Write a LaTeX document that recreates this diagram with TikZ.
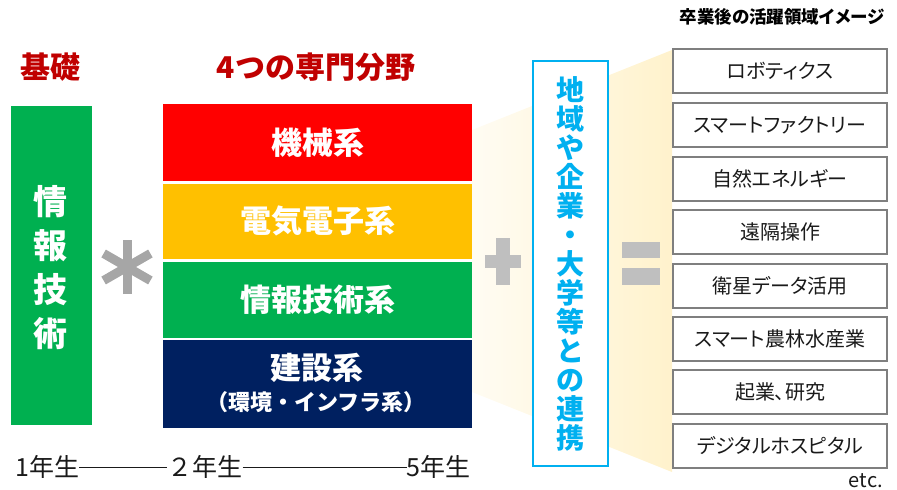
\documentclass[tikz,border=0pt]{standalone}
\usepackage{fontspec}
\setmainfont{Noto Sans CJK JP}
\newfontfamily\jpprop[RawFeature=+palt]{Noto Sans CJK JP}
\definecolor{cred}{HTML}{FF0000}
\definecolor{cyellow}{HTML}{FFC000}
\definecolor{cgreen}{HTML}{00B050}
\definecolor{cnavy}{HTML}{002060}
\definecolor{cblue}{HTML}{00B0F0}
\definecolor{titlered}{HTML}{C00000}
\definecolor{boxgray}{HTML}{7F7F7F}
\definecolor{astgray}{HTML}{A6A6A6}
\definecolor{signgray}{HTML}{BFBFBF}
\definecolor{beigeL}{HTML}{FFFCF3}
\definecolor{beigeR}{HTML}{FFF2CC}
\definecolor{textblack}{HTML}{1A1A1A}
\begin{document}
\begin{tikzpicture}[x=1pt,y=-1pt,
  hdr/.style={text=titlered,inner sep=0,font=\fontsize{30}{36}\selectfont\bfseries},
  band/.style={minimum width=309pt,inner sep=0,text=white,font=\fontsize{31}{36}\selectfont\bfseries},
  outcome/.style={draw=boxgray,line width=2pt,fill=white,minimum width=214pt,minimum height=44pt,inner sep=0,text=textblack,font=\jpprop\fontsize{20}{22}\selectfont},
  yearlbl/.style={inner sep=0,text=textblack,font=\fontsize{25}{28}\selectfont},
  yearline/.style={draw=textblack,line width=1pt}
]
\useasboundingbox (0,0) rectangle (897,490);
% beige fan
\shade[left color=beigeL,right color=beigeR] (472,130) -- (672,50) -- (672,472) -- (472,392) -- cycle;

% headers
\node[hdr] (kiso) at (50,67) {基礎};
\node[hdr] (senmon) at (316,67) {4つの専門分野};

% basic box
\node[fill=cgreen,minimum width=81pt,minimum height=319pt,inner sep=0] (base) at (51.5,265.5) {};
\node[text=white,inner sep=0,align=center,font=\fontsize{34}{44}\selectfont\bfseries] (basetxt) at (51,268) {情\\報\\技\\術};

% asterisk
\foreach \a in {90,30,150}
  \draw[astgray,line width=9pt] (127,267) ++(\a:27) -- ++(\a+180:54);

% specialty bands
\node[band,fill=cred,minimum height=77pt] (mech) at (317.5,142.5) {機械系};
\node[band,fill=cyellow,minimum height=75pt] (elec) at (317.5,221) {電気電子系};
\node[band,fill=cgreen,minimum height=76pt] (info) at (317.5,299.5) {情報技術系};
\node[band,fill=cnavy,minimum height=88pt] (civil) at (317.5,383.5) {};
\node[text=white,inner sep=0,font=\fontsize{31}{36}\selectfont\bfseries] (civilA) at (317,368) {建設系};
\node[text=white,inner sep=0,font=\fontsize{22}{26}\selectfont\bfseries] (civilB) at (316,402) {（環境・インフラ系）};

% plus sign
\fill[signgray] (485,255) rectangle (521,268);
\fill[signgray] (496,238) rectangle (510,285);

% collaboration box
\node[draw=cblue,line width=2pt,fill=white,minimum width=75pt,minimum height=405pt,inner sep=0,
      text=cblue,align=center,font=\fontsize{28}{29}\selectfont\bfseries] (collab) at (570.5,263.5)
  {地\\域\\や\\企\\業\\・\\大\\学\\等\\と\\の\\連\\携};

% equals sign
\fill[signgray] (622,242) rectangle (660,258);
\fill[signgray] (622,268) rectangle (660,285);

% outcomes
\node[font=\jpprop\fontsize{17.5}{20}\selectfont\bfseries,inner sep=0,text=black] (outtitle) at (782,17) {卒業後の活躍領域イメージ};
\node[outcome] (o1) at (780,71) {ロボティクス};
\node[outcome] (o2) at (780,125) {スマートファクトリー};
\node[outcome] (o3) at (780,178.5) {自然エネルギー};
\node[outcome] (o4) at (780,232) {遠隔操作};
\node[outcome] (o5) at (780,285.5) {衛星データ活用};
\node[outcome] (o6) at (780,339) {スマート農林水産業};
\node[outcome] (o7) at (780,392) {起業、研究};
\node[outcome] (o8) at (780,445.5) {デジタルホスピタル};
\node[inner sep=0,anchor=east,text=textblack,font=\fontsize{20}{24}\selectfont] (etc) at (883,481) {etc.};

% timeline
\node[yearlbl,anchor=west] (y1) at (15,467) {1年生};
\node[yearlbl] (y2) at (205,467) {２年生};
\node[yearlbl,anchor=east] (y5) at (471,467) {5年生};
\draw[yearline] (y1.east) -- (y2.west);
\draw[yearline] (y2.east) -- (y5.west);
\end{tikzpicture}
\end{document}
